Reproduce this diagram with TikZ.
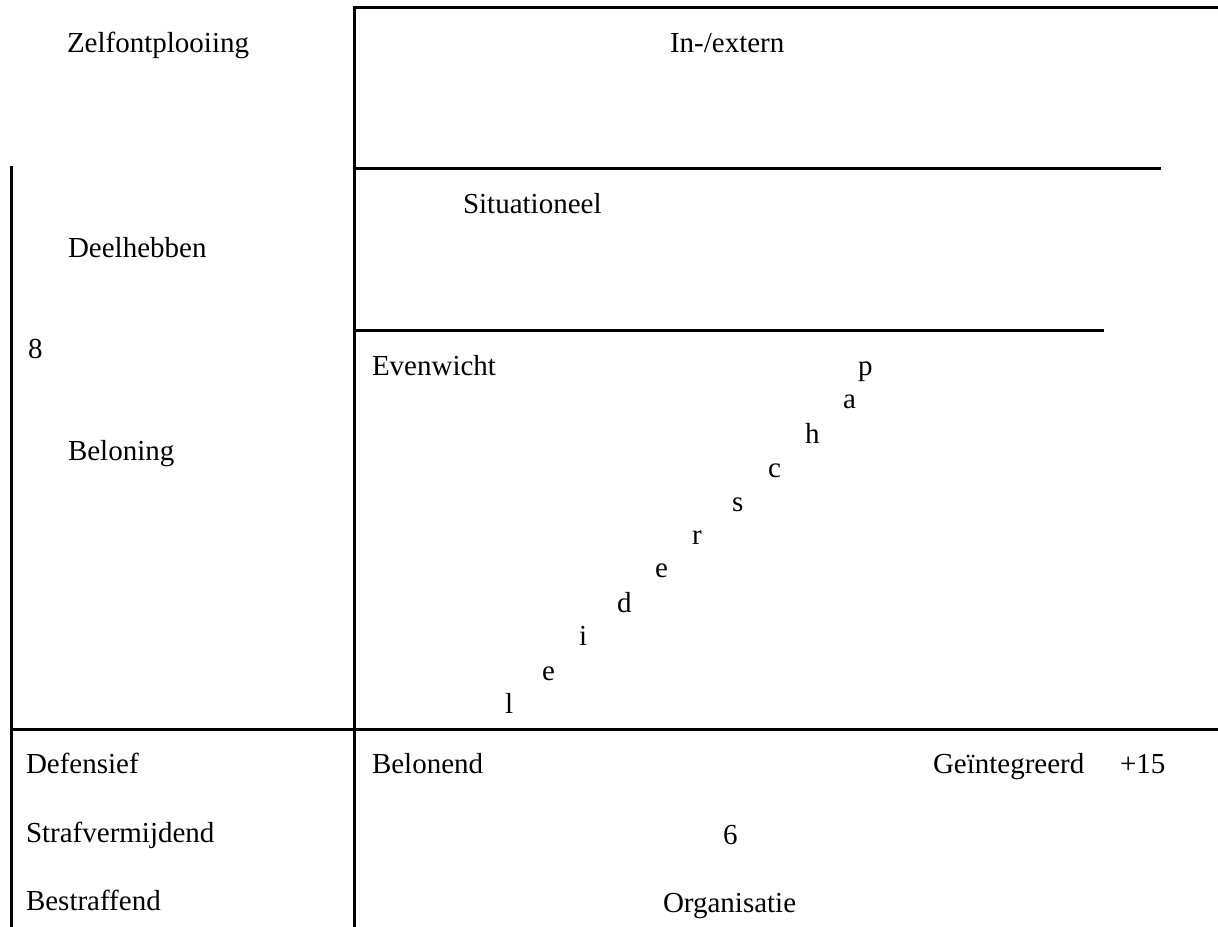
\documentclass[tikz,border=0pt]{standalone}
\usepackage{fontspec}
\setmainfont{Liberation Serif}
\begin{document}
\begin{tikzpicture}[x=0.5pt,y=-0.5pt,
  rule/.style={line width=1.5pt,line cap=rect},
  lbl/.style={anchor=base west,inner sep=0pt,outer sep=0pt,font=\fontsize{14.5}{17}\selectfont}]
\useasboundingbox (0,0) rectangle (1218,926);
% coordinates for the rules
\coordinate (tl) at (354,7);
\coordinate (tr) at (1218,7);
\coordinate (vb) at (354,926);
\coordinate (s1l) at (354,168);
\coordinate (s1r) at (1159,168);
\coordinate (s2l) at (354,330);
\coordinate (s2r) at (1102,330);
\coordinate (lt) at (11,167);
\coordinate (lb) at (11,926);
\coordinate (hl) at (11,729);
\coordinate (hr) at (1218,729);
\draw[rule] (tr) -- (tl) -- (vb);
\draw[rule] (s1l) -- (s1r);
\draw[rule] (s2l) -- (s2r);
\draw[rule] (lt) -- (lb);
\draw[rule] (hl) -- (hr);
% labels
\node[lbl] (zelf) at (67,52) {Zelfontplooiing};
\node[lbl] (inex) at (670,52) {In-/extern};
\node[lbl] (situ) at (463,213) {Situationeel};
\node[lbl] (deel) at (68,257) {Deelhebben};
\node[lbl] (acht) at (28,358) {8};
\node[lbl] (belo) at (68,460) {Beloning};
\node[lbl] (even) at (372,375) {Evenwicht};
\node[lbl] (d1) at (858,375) {p};
\node[lbl] (d2) at (843,408) {a};
\node[lbl] (d3) at (805,443) {h};
\node[lbl] (d4) at (768,477) {c};
\node[lbl] (d5) at (732,511) {s};
\node[lbl] (d6) at (692,544) {r};
\node[lbl] (d7) at (655,577) {e};
\node[lbl] (d8) at (617,612) {d};
\node[lbl] (d9) at (579,645) {i};
\node[lbl] (d10) at (542,680) {e};
\node[lbl] (d11) at (505,713) {l};
\node[lbl] (defe) at (26,773) {Defensief};
\node[lbl] (stra) at (26,842) {Strafvermijdend};
\node[lbl] (best) at (26,910) {Bestraffend};
\node[lbl] (bnd) at (372,773) {Belonend};
\node[lbl] (geint) at (933,773) {Geïntegreerd};
\node[lbl] (plus) at (1120,773) {+15};
\node[lbl] (zes) at (723,844) {6};
\node[lbl] (org) at (663,912) {Organisatie};
\end{tikzpicture}
\end{document}
